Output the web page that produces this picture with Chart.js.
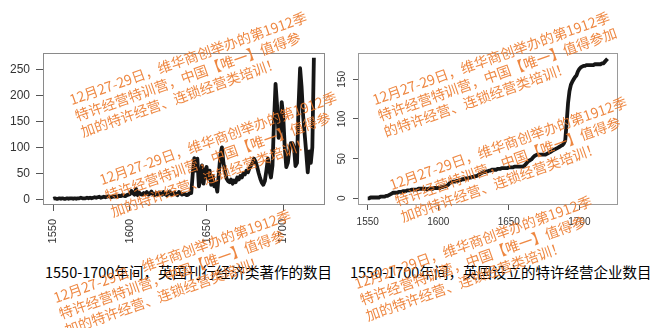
<!DOCTYPE html>
<html>
<head>
<meta charset="utf-8">
<script src="https://cdn.jsdelivr.net/npm/chart.js@4/dist/chart.umd.min.js"></script>
<style>
  html, body { margin: 0; padding: 0; background: #fff; }
  #page { position: relative; width: 651px; height: 328px; overflow: hidden; }
  canvas { position: absolute; top: 0; }
  .caption { position: absolute; top: 262px; font: 14.5px "Noto Sans CJK SC", sans-serif; color: #000; white-space: nowrap; line-height: 20px; }
  .mark { position: absolute; transform-origin: 0 0; transform: rotate(-19.5deg); color: rgba(236, 122, 44, 0.9);
          font: 14px "Noto Sans CJK SC", sans-serif; line-height: 17px; white-space: nowrap; pointer-events: none; }
</style>
</head>
<body>
<div id="page">
  <canvas id="booksChart" width="330" height="250" style="left:0"></canvas>
  <canvas id="firmsChart" width="321" height="250" style="left:330px"></canvas>
  <div class="caption" id="capLeft" style="left:45px"></div>
  <div class="caption" id="capRight" style="left:350px"></div>
</div>
<script>
// data, one value per year 1550..1720
const firstYear = 1550;
const lastYear = 1720;

const bookCounts = [
  1, 2, 1, 1, 2, 1, 2, 1, 1, 2,
  1, 2, 2, 1, 2, 1, 2, 2, 3, 2,
  2, 2, 3, 2, 3, 2, 3, 4, 3, 4,
  5, 3, 4, 5, 4, 5, 6, 5, 4, 6,
  5, 6, 5, 7, 6, 8, 7, 6, 8, 9,
  10, 16, 12, 9, 20, 8, 13, 10, 9, 12,
  10, 14, 9, 11, 15, 10, 8, 12, 9, 13,
  11, 9, 14, 10, 8, 12, 15, 9, 11, 13,
  10, 8, 14, 12, 9, 11, 10, 8, 9, 12,
  12, 50, 79, 55, 78, 25, 40, 65, 30, 55,
  62, 40, 55, 28, 45, 25, 30, 15, 50, 85,
  100, 70, 55, 40, 35, 33, 38, 30, 36, 33,
  42, 38, 45, 42, 50, 48, 55, 52, 60, 65,
  70, 78, 72, 62, 50, 40, 32, 28, 35, 55,
  78, 55, 42, 65, 150, 222, 180, 118, 130, 187,
  160, 100, 62, 70, 95, 108, 108, 100, 64, 70,
  180, 252, 215, 160, 125, 90, 52, 92, 70, 100, 272
];

const firmCounts = [
  0, 0, 1, 1, 1, 1, 1, 1, 1, 2,
  2, 2, 2, 3, 3, 4, 5, 6, 7, 7,
  7, 7, 8, 8, 8, 9, 9, 9, 10, 10,
  10, 11, 11, 11, 11, 11, 12, 12, 12, 12,
  12, 12, 11, 12, 12, 12, 12, 13, 13, 13,
  13, 13, 14, 14, 15, 15, 16, 17, 19, 20,
  21, 21, 21, 22, 22, 23, 23, 24, 24, 25,
  25, 25, 26, 26, 27, 27, 28, 28, 29, 30,
  31, 32, 33, 33, 34, 34, 35, 35, 36, 36,
  36, 36, 37, 37, 37, 38, 38, 38, 38, 38,
  39, 39, 39, 39, 40, 40, 40, 40, 40, 40,
  40, 41, 43, 45, 47, 48, 49, 51, 53, 54,
  55, 55, 55, 55, 55, 55, 55, 56, 57, 58,
  59, 60, 61, 62, 63, 64, 65, 66, 67, 69,
  73, 95, 120, 135, 143, 147, 150, 153, 155, 160,
  163, 165, 166, 167, 167, 168, 168, 168, 168, 168,
  168, 169, 169, 169, 169, 169, 170, 170, 172, 174, 176
];

const xTickValues = [1550, 1600, 1650, 1700];
const booksYTicks = [0, 50, 100, 150, 200, 250];
const firmsYTicks = [0, 50, 100, 150];

const captionLeft = '1550-1700年间，英国刊行经济类著作的数目';
const captionRight = '1550-1700年间，英国设立的特许经营企业数目';

const markLinesA = ['12月27-29日，维华商创举办的第1912季', '特许经营特训营，中国【唯一】值得参', '加的特许经营、连锁经营类培训！'];
const markLinesB = ['12月27-29日，维华商创举办的第1912季', '特许经营特训营，中国【唯一】值得参加', '的特许经营、连锁经营类培训！'];

const tickFont = '"Liberation Sans", Arial, sans-serif';

const years = [];
for (let y = firstYear; y <= lastYear; y++) years.push(y);

const plotBox = {
  id: 'plotBox',
  beforeDatasetsDraw(chart, args, opts) {
    const { ctx, chartArea: a } = chart;
    ctx.save();
    ctx.strokeStyle = opts.color || '#888';
    ctx.lineWidth = 1;
    ctx.strokeRect(Math.round(a.left) + 0.5, Math.round(a.top) + 0.5,
      Math.round(a.right - a.left), Math.round(a.bottom - a.top));
    ctx.restore();
  }
};

function fixedTicks(values) {
  return scale => { scale.ticks = values.map(v => ({ value: v })); };
}

function makeChart(id, values, cfg) {
  const points = years.map((yr, i) => ({ x: yr, y: values[i] }));
  return new Chart(document.getElementById(id), {
    type: 'line',
    data: {
      datasets: [{
        data: points,
        borderColor: '#161616',
        borderWidth: 3.8,
        pointRadius: 0,
        tension: 0,
        fill: false,
        borderJoinStyle: 'round'
      }]
    },
    options: {
      responsive: false,
      animation: false,
      devicePixelRatio: 1,
      layout: { padding: { top: 53, right: cfg.padRight, left: 0, bottom: 0 } },
      plugins: { legend: { display: false }, tooltip: { enabled: false }, plotBox: { color: cfg.boxColor } },
      scales: {
        x: {
          type: 'linear',
          min: cfg.xMin,
          max: cfg.xMax,
          afterBuildTicks: fixedTicks(xTickValues),
          afterFit: s => { s.height = 46; },
          border: { display: false },
          grid: { drawOnChartArea: false, drawTicks: true, tickLength: cfg.xTickLen, color: '#555', lineWidth: 1 },
          ticks: {
            minRotation: cfg.xRot, maxRotation: cfg.xRot, padding: cfg.xPad, color: '#333',
            font: { size: cfg.xFont, family: tickFont }, callback: v => String(v)
          }
        },
        y: {
          min: cfg.yMin,
          max: cfg.yMax,
          afterBuildTicks: fixedTicks(cfg.yTicks),
          afterFit: s => { s.width = cfg.yWidth; },
          border: { display: false },
          grid: { drawOnChartArea: false, drawTicks: true, tickLength: cfg.yTickLen, color: '#555', lineWidth: 1 },
          ticks: {
            minRotation: cfg.yRot, maxRotation: cfg.yRot, crossAlign: cfg.yCross, padding: cfg.yPad, color: '#333',
            font: { size: cfg.yFont, family: tickFont }, callback: v => String(v)
          }
        }
      }
    },
    plugins: [plotBox]
  });
}

makeChart('booksChart', bookCounts, {
  padRight: 6, boxColor: '#8a8a8a',
  xMin: 1543.3, xMax: 1726.6, xRot: 90, xPad: 8, xFont: 11, xTickLen: 7,
  yMin: -9, yMax: 281.3, yTicks: booksYTicks, yWidth: 43, yRot: 0, yCross: 'near', yPad: 6, yFont: 12, yTickLen: 7
});

makeChart('firmsChart', firmCounts, {
  padRight: 34, boxColor: '#9a9a9a',
  xMin: 1543.1, xMax: 1726.7, xRot: 0, xPad: 6, xFont: 10, xTickLen: 6,
  yMin: -7.2, yMax: 183.2, yTicks: firmsYTicks, yWidth: 28, yRot: 90, yCross: 'center', yPad: 2, yFont: 10, yTickLen: 5
});

document.getElementById('capLeft').textContent = captionLeft;
document.getElementById('capRight').textContent = captionRight;

// orange overlay text, same as in the source picture
function addMark(lines, left, top) {
  const div = document.createElement('div');
  div.className = 'mark';
  div.style.left = left + 'px';
  div.style.top = top + 'px';
  lines.forEach((t, i) => {
    if (i) div.appendChild(document.createElement('br'));
    div.appendChild(document.createTextNode(t));
  });
  document.getElementById('page').appendChild(div);
}

addMark(markLinesA, 67, 92);
addMark(markLinesA, 97, 172);
addMark(markLinesA, 51, 290);
addMark(markLinesB, 370, 92);
addMark(markLinesA, 387, 177);
addMark(markLinesA, 352, 276);
</script>
</body>
</html>
